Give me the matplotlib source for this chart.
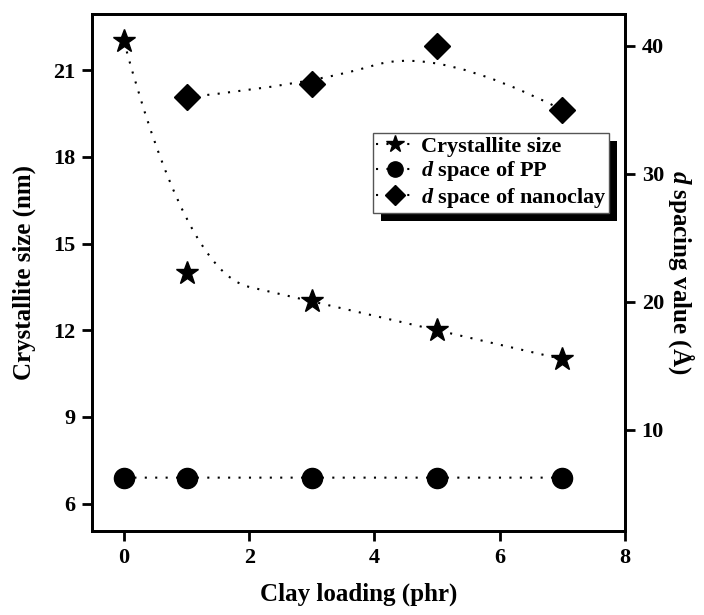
import numpy as np
import matplotlib
matplotlib.use('Agg')
import matplotlib.pyplot as plt
from matplotlib.path import Path
from matplotlib.patches import PathPatch, Rectangle
from matplotlib.lines import Line2D

# data
clay = [0, 1, 3, 5, 7]
cryst_size = [22, 14, 13, 12, 11]
d_pp = [6.27, 6.27, 6.27, 6.27, 6.27]
clay_nc = [1, 3, 5, 7]
d_nanoclay = [36, 37, 40, 35]

plt.rcParams.update({
    'font.family': 'Liberation Serif',
    'font.weight': 'bold',
    'axes.labelweight': 'bold',
    'mathtext.fontset': 'custom',
    'mathtext.rm': 'Liberation Serif:bold',
    'mathtext.it': 'Liberation Serif:italic:bold',
})

DOTS = (0, (1, 4))


def bspline_path(x, y):
    # quadratic B-spline through end points (like Origin's B-spline connect)
    pts = np.column_stack([x, y]).astype(float)
    verts = [pts[0]]
    codes = [Path.MOVETO]
    for i in range(1, len(pts) - 2):
        verts += [pts[i], (pts[i] + pts[i + 1]) / 2]
        codes += [Path.CURVE3, Path.CURVE3]
    verts += [pts[-2], pts[-1]]
    codes += [Path.CURVE3, Path.CURVE3]
    return Path(verts, codes)


def curve(ax, x, y):
    patch = PathPatch(bspline_path(x, y), facecolor='none', edgecolor='k',
                      lw=1.5, linestyle=DOTS)
    ax.add_patch(patch)


fig = plt.figure(figsize=(7.04, 6.15), dpi=100)
ax = fig.add_axes([92 / 704, 1 - 531 / 615, 533 / 704, 517 / 615])
ax2 = ax.twinx()

curve(ax, clay, cryst_size)
ax.plot(clay, cryst_size, ls='none', marker='*', ms=17, color='k')

curve(ax2, clay, d_pp)
ax2.plot(clay, d_pp, ls='none', marker='o', ms=14.5, color='k')
curve(ax2, clay_nc, d_nanoclay)
ax2.plot(clay_nc, d_nanoclay, ls='none', marker='D', ms=13, color='k')

ax.set_xlim(-0.51, 8)
ax.set_ylim(5.05, 22.95)
ax2.set_ylim(2.1, 42.5)
ax.set_xticks([0, 2, 4, 6, 8])
ax.set_yticks([6, 9, 12, 15, 18, 21])
ax2.set_yticks([10, 20, 30, 40])

for a in (ax, ax2):
    for s in a.spines.values():
        s.set_linewidth(2)
    a.tick_params(direction='out', length=7, width=2, labelsize=16, pad=5)

ax.set_xlabel('Clay loading (phr)', fontsize=18, labelpad=11)
ax.set_ylabel('Crystallite size (nm)', fontsize=18, labelpad=12)
ax2.set_ylabel(r'$\mathit{d}$ spacing value (Å)', fontsize=18, rotation=270,
               labelpad=24)

handles = [
    Line2D([], [], color='k', lw=1.5, ls=DOTS, marker='*', ms=13),
    Line2D([], [], color='k', lw=1.5, ls=DOTS, marker='o', ms=11),
    Line2D([], [], color='k', lw=1.5, ls=DOTS, marker='D', ms=10),
]
labels = ['Crystallite size', r'$\mathit{d}$ space of PP',
          r'$\mathit{d}$ space of nanoclay']
leg = ax2.legend(handles, labels, loc='upper left',
                 bbox_to_anchor=(0.527, 0.770), borderaxespad=0,
                 fontsize=16, fancybox=False, edgecolor='#555555',
                 framealpha=1, handlelength=1.7, handletextpad=0.3,
                 labelspacing=0.12, borderpad=0.15)
leg.get_frame().set_linewidth(1)

# hard black shadow offset down-right
fig.canvas.draw()
bb = leg.get_window_extent()
shadow = Rectangle((bb.x0 + 8, bb.y0 - 8), bb.width, bb.height,
                   transform=None, facecolor='k', edgecolor='none',
                   zorder=leg.get_zorder() - 0.1)
ax2.add_artist(shadow)

fig.savefig('out.png', dpi=100)
